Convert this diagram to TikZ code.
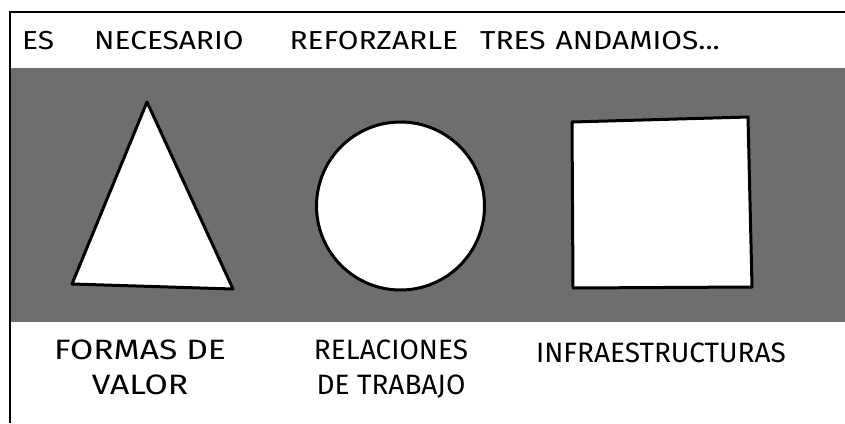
\documentclass[tikz,border=0pt]{standalone}
\usepackage{fontspec}
\setmainfont{Fira Sans}
\newfontfamily\handwide[FakeStretch=1.15]{Fira Sans}
\newfontfamily\handwider[FakeStretch=1.2]{Fira Sans}
\tikzset{
  shapeline/.style={line width=3pt, line join=round, fill=white},
  captionlbl/.style={font={\fontsize{28}{35}\selectfont}, align=center, inner sep=0pt},
}
\begin{document}
\begin{tikzpicture}[x=1pt, y=-1pt]
\useasboundingbox (0,0) rectangle (845,423);
\fill [white] (0,0) rectangle (845,423);
\fill [black!57] (11,68) rectangle (845,322);
\draw [line width=2pt] (10,423) -- (10,12) -- (845,12);
\node [anchor=west, inner sep=0pt, font={\handwide\fontsize{26}{30}\selectfont}] (title) at (22,41)
  {ES\hspace{40pt}NECESARIO\hspace{46pt}REFORZARLE\hspace{22pt}TRES\hspace{10pt}ANDAMIOS...};
\draw [shapeline] (147,102) -- (233,289) -- (72,284) -- cycle;
\draw [shapeline] (400.5,206) circle [radius=84pt];
\draw [shapeline] (572,122) -- (748,117) -- (752,287) -- (573,288) -- cycle;
\node [captionlbl, font={\handwider\fontsize{28}{35}\selectfont}] (valor) at (140,367) {FORMAS DE\\VALOR};
\node [captionlbl] (trabajo) at (391,369) {RELACIONES\\DE TRABAJO};
\node [captionlbl] (infra) at (661,353) {INFRAESTRUCTURAS};
\end{tikzpicture}
\end{document}
